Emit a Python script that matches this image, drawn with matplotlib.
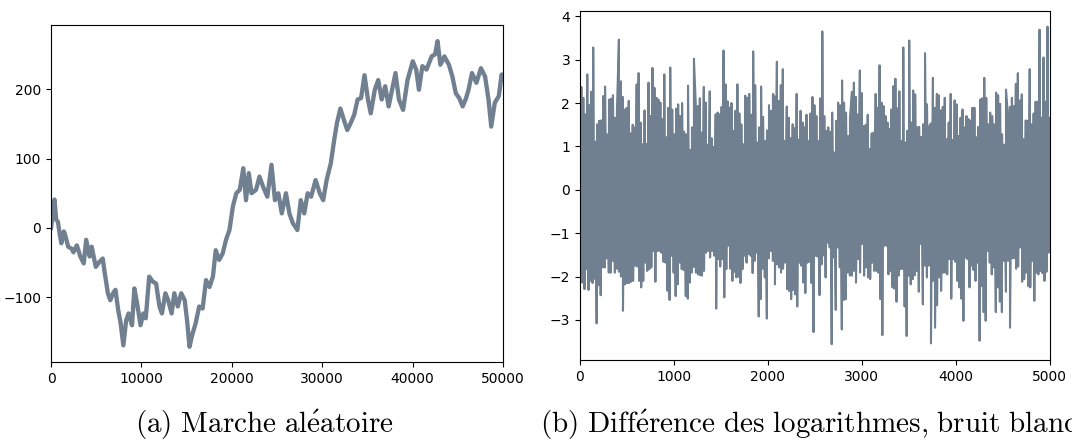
import numpy as np
import matplotlib.pyplot as plt

plt.rcParams["mathtext.fontset"] = "cm"

# ── (a) random walk, values read at successive steps ─────────────────────────
walk_steps = [0, 380, 570, 760, 950, 1140, 1410, 1520, 1900, 2290, 2480, 2860,
              3240, 3620, 3890, 4270, 4500, 4950, 5330, 5720, 5900, 6290, 6550,
              6860, 7130, 7430, 7700, 8000, 8310, 8580, 8960, 9220, 9530, 9900,
              10210, 10480, 10860, 11240, 11620, 12000, 12270, 12650, 12960,
              13340, 13640, 14020, 14400, 14790, 15050, 15320, 15620, 16000,
              16390, 16770, 17150, 17530, 17910, 18220, 18600, 18980, 19360,
              19740, 20120, 20500, 20880, 21270, 21570, 21880, 22180, 22680,
              23060, 23440, 23930, 24390, 24770, 25150, 25530, 25990, 26370,
              26750, 27250, 27630, 28010, 28390, 28770, 29270, 29730, 30110,
              30490, 30950, 31330, 31630, 32010, 32390, 32770, 33150, 33540,
              33920, 34300, 34680, 35060, 35370, 35820, 36200, 36580, 36970,
              37350, 37730, 38110, 38490, 38950, 39440, 40020, 40400, 40700,
              41080, 41540, 42110, 42490, 42760, 43070, 43520, 44020, 44400,
              44780, 45160, 45540, 45920, 46190, 46570, 47060, 47560, 48020,
              48400, 48700, 49090, 49540, 49850, 50000]
walk_vals = [0, 41, 12, 9, -8, -22, -5, -8, -27, -30, -35, -25, -41, -51, -17,
             -41, -27, -56, -49, -44, -61, -94, -104, -94, -89, -118, -137,
             -169, -133, -123, -140, -87, -109, -140, -123, -130, -70, -77, -80,
             -113, -123, -94, -104, -123, -94, -113, -94, -104, -133, -171,
             -154, -137, -113, -116, -75, -85, -70, -32, -46, -37, -17, -3, 31,
             50, 55, 86, 40, 79, 50, 55, 74, 60, 45, 91, 40, 50, 21, 50, 21, 7,
             -3, 40, 21, 50, 45, 69, 50, 40, 69, 93, 127, 151, 172, 156, 141,
             151, 163, 185, 187, 220, 185, 165, 199, 213, 185, 204, 175, 199,
             223, 185, 170, 213, 240, 228, 199, 233, 228, 247, 250, 269, 235,
             247, 235, 218, 194, 187, 175, 187, 199, 223, 209, 230, 218, 185,
             146, 180, 190, 221, 215]

# ── (b) white noise: successive upper and lower spike values ─────────────────
noise_highs = [2.37, 2.12, 1.74, 2.66, 1.95, 2.26, 3.28, 1.11, 1.51, 1.59, 1.60,
               2.16, 2.38, 1.28, 2.08, 2.10, 2.18, 1.66, 1.82, 3.46, 2.50, 2.14,
               1.85, 1.89, 2.05, 1.30, 1.50, 1.44, 2.43, 2.69, 1.55, 1.05, 1.83,
               1.06, 2.47, 1.70, 2.81, 2.35, 2.12, 2.08, 2.01, 1.63, 2.66, 1.21,
               1.89, 2.82, 1.85, 1.28, 1.87, 1.97, 1.70, 2.00, 1.34, 1.28, 2.40,
               0.92, 1.44, 3.02, 1.89, 1.93, 2.11, 1.32, 2.37, 2.01, 1.04, 2.27,
               1.19, 0.99, 1.74, 1.78, 1.74, 1.91, 3.21, 2.43, 2.04, 1.89, 2.00,
               1.36, 1.82, 2.43, 1.76, 1.51, 1.05, 2.17, 2.12, 2.21, 1.73, 3.19,
               2.41, 1.09, 1.44, 2.38, 1.68, 1.13, 1.37, 1.95, 1.82, 2.21, 2.12,
               2.95, 2.05, 2.41, 2.78, 1.13, 1.92, 1.66, 1.19, 1.51, 1.42, 2.21,
               1.16, 1.82, 1.55, 1.44, 1.73, 1.13, 1.76, 2.14, 1.95, 1.70, 1.13,
               2.11, 3.65, 1.70, 1.36, 1.44, 1.34, 1.78, 0.86, 1.59, 2.01, 1.95,
               2.52, 2.01, 1.78, 1.24, 1.66, 2.26, 2.47, 2.14, 1.74, 2.75, 2.23,
               1.47, 1.50, 1.73, 0.94, 1.30, 1.32, 2.21, 1.89, 2.87, 2.01, 1.93,
               1.70, 1.55, 1.40, 1.85, 2.39, 2.56, 1.88, 2.27, 1.13, 3.28, 1.09,
               1.36, 3.44, 1.55, 2.29, 2.20, 1.44, 1.45, 1.22, 1.51, 3.15, 1.97,
               1.45, 1.53, 2.58, 1.89, 2.21, 2.18, 1.83, 1.91, 2.12, 1.17, 1.55,
               2.21, 1.15, 2.06, 1.97, 1.24, 1.66, 1.85, 1.44, 1.70, 1.63, 1.59,
               1.89, 1.89, 1.21, 1.45, 2.08, 2.11, 2.58, 2.12, 1.51, 1.78, 1.70,
               1.51, 2.24, 2.18, 1.98, 1.28, 1.04, 2.31, 1.70, 1.91, 2.12, 1.93,
               2.44, 2.69, 2.06, 2.20, 1.17, 1.60, 1.59, 2.78, 1.51, 1.76, 2.03,
               2.03, 3.69, 1.66, 3.05, 2.03, 3.76, 1.66]
noise_lows = [-1.79, -2.14, -2.29, -1.83, -2.31, -2.10, -2.15, -2.05, -3.08,
              -2.20, -2.43, -1.79, -1.79, -1.58, -1.91, -1.91, -1.64, -1.91,
              -1.82, -1.89, -2.00, -2.79, -2.18, -2.15, -2.15, -2.12, -2.10,
              -1.75, -1.77, -2.10, -2.25, -2.10, -1.68, -1.87, -1.83, -1.79,
              -1.41, -2.12, -1.41, -1.41, -1.45, -1.66, -1.68, -2.33, -2.54,
              -1.52, -1.91, -2.45, -2.18, -1.68, -1.83, -1.85, -2.45, -2.51,
              -2.14, -1.91, -1.78, -1.91, -1.95, -1.97, -1.98, -1.87, -1.45,
              -1.41, -1.56, -1.41, -1.52, -2.74, -1.60, -1.77, -1.60, -2.48,
              -1.83, -1.29, -1.82, -2.10, -1.89, -2.02, -2.00, -2.15, -1.83,
              -1.52, -1.68, -1.48, -1.52, -1.92, -1.64, -1.45, -2.92, -2.52,
              -1.82, -2.02, -2.97, -1.58, -1.41, -1.64, -2.18, -1.72, -1.79,
              -1.91, -1.82, -1.68, -2.29, -2.33, -2.52, -2.31, -2.41, -2.69,
              -1.68, -1.75, -2.14, -2.38, -1.68, -1.66, -2.15, -3.28, -1.52,
              -1.54, -2.43, -1.72, -1.51, -2.02, -1.22, -1.33, -3.56, -1.56,
              -2.77, -1.33, -1.79, -3.22, -2.54, -2.52, -1.91, -1.98, -1.98,
              -1.87, -2.14, -1.60, -1.91, -1.25, -1.98, -1.79, -2.02, -2.06,
              -1.68, -1.87, -1.87, -1.91, -2.52, -3.35, -1.29, -1.29, -1.95,
              -1.87, -2.25, -2.28, -2.58, -1.98, -1.83, -1.82, -2.69, -3.37,
              -1.98, -2.18, -2.06, -1.97, -1.87, -2.35, -1.25, -2.64, -1.75,
              -2.02, -1.75, -3.54, -2.10, -3.18, -2.66, -2.02, -2.33, -1.91,
              -1.91, -1.95, -1.60, -2.51, -1.60, -1.66, -2.10, -2.25, -2.51,
              -3.02, -1.56, -1.60, -2.25, -1.75, -1.85, -2.10, -1.68, -3.48,
              -2.22, -2.82, -3.02, -1.41, -1.68, -1.95, -1.79, -2.82, -2.25,
              -2.58, -2.82, -1.64, -2.35, -1.64, -3.18, -1.58, -1.58, -1.82,
              -1.77, -1.33, -2.12, -2.06, -1.91, -2.22, -2.25, -1.64, -2.56,
              -1.91, -1.95, -1.87, -1.92, -2.10, -1.89, -1.45]

caption_a = r"$\mathrm{(a)\ Marche\ al\acute{e}atoire}$"
caption_b = r"$\mathrm{(b)\ Diff\acute{e}rence\ des\ logarithmes{,}\ bruit\ blanc}$"

line_color = "slategray"

fig = plt.figure(figsize=(10.72, 4.41), dpi=100)
ax1 = fig.add_axes([0.0476, 0.179, 0.4216, 0.764])
ax2 = fig.add_axes([0.541, 0.184, 0.4384, 0.791])

# left panel
ax1.plot(walk_steps, walk_vals, color=line_color, linewidth=3.1)
ax1.set_xlim(0, 50000)
ax1.set_ylim(-193, 292)
ax1.set_yticks([-100, 0, 100, 200])

# right panel: upper and lower spikes, each spread over the time axis,
# then visited in time order
x_hi = np.linspace(15, 4995, len(noise_highs))
x_lo = np.linspace(5, 4985, len(noise_lows))
xs = np.concatenate([x_hi, x_lo])
ys = np.concatenate([noise_highs, noise_lows])
order = np.argsort(xs, kind="stable")
ax2.plot(xs[order], ys[order], color=line_color, linewidth=1.5)
ax2.set_xlim(0, 5000)
ax2.set_ylim(-3.92, 4.12)

for ax in (ax1, ax2):
    ax.tick_params(labelsize=10)

fig.text(0.247, 0.036, caption_a, fontsize=21, ha="center", va="center")
fig.text(0.5035, 0.036, caption_b, fontsize=21, ha="left", va="center")

fig.savefig("out.png", dpi=100)
plt.close(fig)
